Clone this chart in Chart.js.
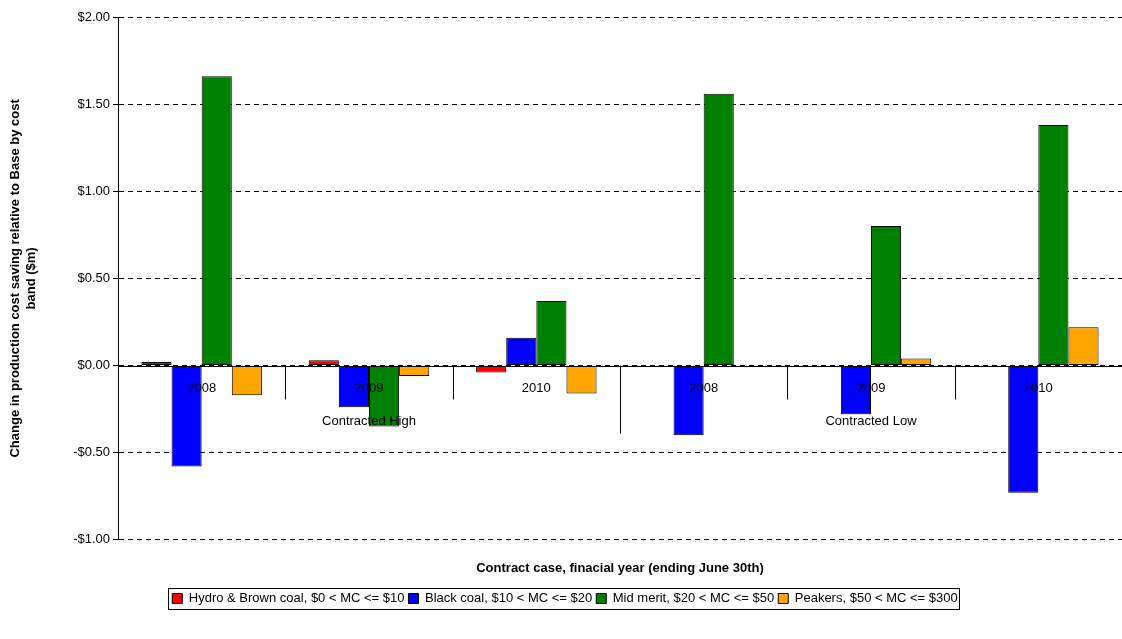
<!DOCTYPE html>
<html><head><meta charset="utf-8">
<script src="https://cdn.jsdelivr.net/npm/chart.js@4/dist/chart.umd.min.js"></script>
<style>html,body{margin:0;background:#fff}#wrap{width:1122px;height:639px}</style>
</head><body><div id="wrap"><canvas id="c"></canvas></div>
<script>
const years = ['2008', '2009', '2010', '2008', '2009', '2010'];
const groups = ['Contracted High', 'Contracted Low'];
const hydro = [0.02, 0.03, -0.04, -0.005, -0.005, 0.005];
const black = [-0.58, -0.24, 0.16, -0.40, -0.28, -0.73];
const midMerit = [1.66, -0.35, 0.37, 1.56, 0.80, 1.38];
const peakers = [-0.17, -0.06, -0.16, 0.005, 0.04, 0.22];

const font = 'Arial, "Liberation Sans", sans-serif';

const overlay = {
    id: 'overlay',
    afterDatasetsDraw(chart) {
        const ctx = chart.ctx, x = chart.scales.x, y = chart.scales.y, a = chart.chartArea;
        const y0 = y.getPixelForValue(0);
        const step = x.getPixelForValue(1) - x.getPixelForValue(0);
        ctx.save();
        ctx.strokeStyle = '#000'; ctx.lineWidth = 1;
        ctx.beginPath(); ctx.moveTo(a.left, Math.round(y0) + 0.5); ctx.lineTo(a.right, Math.round(y0) + 0.5); ctx.stroke();
        for (let i = 0; i <= years.length; i++) {
            const px = Math.round(x.getPixelForValue(i) - step / 2) + 0.5;
            const long = (i % 3 === 0);
            ctx.beginPath(); ctx.moveTo(px, y0); ctx.lineTo(px, y0 + (long ? 68 : 34)); ctx.stroke();
        }
        ctx.fillStyle = '#000'; ctx.font = '13px ' + font; ctx.textAlign = 'center'; ctx.textBaseline = 'middle';
        years.forEach((t, i) => ctx.fillText(t, x.getPixelForValue(i), y0 + 23));
        groups.forEach((t, g) => ctx.fillText(t, x.getPixelForValue(g * 3 + 1), y0 + 56));
        ctx.font = 'bold 13px ' + font;
        ctx.fillText('Contract case, finacial year (ending June 30th)', (a.left + a.right) / 2, a.bottom + 29);
        const l = chart.legend;
        if (l && l.legendHitBoxes.length) {
            const h = l.legendHitBoxes;
            const lx = h[0].left - 4, rx = h[h.length - 1].left + h[h.length - 1].width + 2;
            ctx.strokeRect(Math.round(lx) + 0.5, Math.round(h[0].top) - 3.5, Math.round(rx - lx), 21);
        }
        ctx.restore();
    }
};

const ds = (label, data, color) => ({ label, data, backgroundColor: color, borderColor: '#000', borderWidth: 1, borderSkipped: false });

new Chart(document.getElementById('c'), {
    type: 'bar',
    data: {
        labels: years,
        datasets: [
            ds('Hydro & Brown coal, $0 < MC <= $10', hydro, '#ff0000'),
            ds('Black coal, $10 < MC <= $20', black, '#0000ff'),
            ds('Mid merit, $20 < MC <= $50', midMerit, '#008000'),
            ds('Peakers, $50 < MC <= $300', peakers, '#ffa500')
        ]
    },
    plugins: [overlay],
    options: {
        responsive: true, maintainAspectRatio: false, animation: false,
        layout: { padding: { left: 8, right: 0, top: 17, bottom: 24 } },
        datasets: { bar: { categoryPercentage: 0.72, barPercentage: 1 } },
        plugins: {
            tooltip: { enabled: false },
            legend: {
                position: 'bottom',
                title: { display: true, text: ' ', font: { size: 1 }, padding: { top: 47, bottom: 0 } },
                labels: { color: '#000', font: { family: font, size: 13 }, boxWidth: 10, boxHeight: 10, padding: 4 }
            }
        },
        scales: {
            x: { display: false, grid: { display: false } },
            y: {
                min: -1, max: 2,
                afterFit(s) { s.width = 110; },
                ticks: { stepSize: 0.5, color: '#000', font: { family: font, size: 13 },
                    callback: v => (v < 0 ? '-$' : '$') + Math.abs(v).toFixed(2) },
                grid: { color: '#000', drawTicks: true, tickLength: 5 },
                border: { color: '#000', dash: [5, 4] },
                title: { display: true, text: ['Change in production cost saving relative to Base by cost', 'band ($m)'],
                    color: '#000', font: { family: font, size: 13, weight: 'bold' }, padding: 0 }
            }
        }
    }
});
</script></body></html>
